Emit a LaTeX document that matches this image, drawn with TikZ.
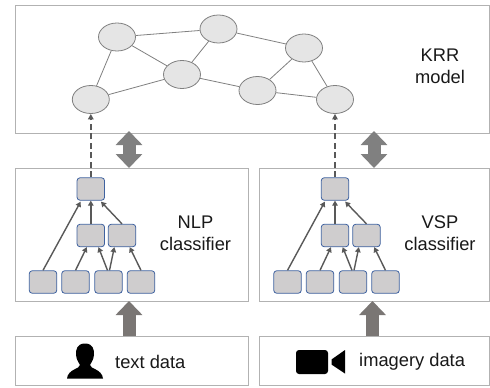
\documentclass[tikz,border=0pt]{standalone}
\usepackage{fontspec}
\setmainfont{Liberation Sans}
\usetikzlibrary{arrows.meta, shapes.geometric}
\definecolor{cellblue}{HTML}{3F62A0}
\definecolor{cellgray}{HTML}{CFCDCE}
\definecolor{flowgray}{HTML}{7A7674}

\begin{document}
\begin{tikzpicture}[
    x=1pt,y=-1pt,
    panel/.style={draw=black!30, line width=1pt, fill=white, inner sep=0pt, anchor=north west},
    concept/.style={ellipse, draw=black!50, line width=0.8pt, fill=black!10, minimum width=37pt, minimum height=28pt, inner sep=0pt},
    cell/.style={draw=cellblue, line width=0.8pt, fill=cellgray, rounded corners=3pt, minimum width=27.5pt, minimum height=22.5pt, inner sep=0pt},
    link/.style={draw=black!50, line width=0.8pt},
    feed/.style={draw=black!65, line width=1.4pt, -{Triangle[width=5.5pt,length=5pt]}},
    lift/.style={draw=black!65, line width=1.5pt, dash pattern=on 6pt off 3.5pt, -{Triangle[width=5.5pt,length=5.5pt]}},
    flow/.style={draw=flowgray, line width=13pt, -{Triangle[width=26pt,length=14pt]}},
    swap/.style={draw=black!50, line width=13pt, {Triangle[width=26pt,length=14pt]}-{Triangle[width=26pt,length=14pt]}},
    caption/.style={align=center, font=\fontsize{18.3}{22}\selectfont, text=black!90, inner sep=0pt}
    ]
    \useasboundingbox (0, 0) rectangle (490, 388);
    % panels
    \node[panel, minimum width=474.5pt, minimum height=128pt] (krr) at (14.5, 4.5) {};
    \node[panel, minimum width=233pt, minimum height=133.5pt] (nlp) at (14.5, 167.5) {};
    \node[panel, minimum width=230.5pt, minimum height=133.5pt] (vsp) at (258.5, 167.5) {};
    \node[panel, minimum width=233pt, minimum height=49.5pt] (text) at (14.5, 335.5) {};
    \node[panel, minimum width=230.5pt, minimum height=49.5pt] (imagery) at (258.5, 335.5) {};
    % graph
    \node[concept] (c1) at (117, 37) {};
    \node[concept] (c2) at (218.5, 29) {};
    \node[concept] (c3) at (90.8, 99.5) {};
    \node[concept] (c4) at (182, 74.5) {};
    \node[concept] (c5) at (304, 48) {};
    \node[concept] (c6) at (257.5, 90.5) {};
    \node[concept] (c7) at (335, 99.5) {};
    \draw[link] (c1) -- (c2);
    \draw[link] (c1) -- (c3);
    \draw[link] (c1) -- (c4);
    \draw[link] (c3) -- (c4);
    \draw[link] (c2) -- (c4);
    \draw[link] (c2) -- (c5);
    \draw[link] (c4) -- (c6);
    \draw[link] (c5) -- (c6);
    \draw[link] (c5) -- (c7);
    \draw[link] (c6) -- (c7);
    % left classifier
    \node[cell] (n1) at (90.8, 189) {};
    \node[cell] (n2) at (90.8, 235.5) {};
    \node[cell] (n3) at (122, 235.5) {};
    \node[cell] (n4) at (43, 282) {};
    \node[cell] (n5) at (75.5, 282) {};
    \node[cell] (n6) at (108.5, 282) {};
    \node[cell] (n7) at (141, 282) {};
    \draw[feed] (n4.north) -- ([xshift=4pt,yshift=-1pt]n1.south west);
    \draw[feed] (n2.north) -- (n1.south);
    \draw[feed] (n3.north) -- ([xshift=-4pt,yshift=-1pt]n1.south east);
    \draw[feed] (n5.north) -- ([xshift=-4pt]n2.south);
    \draw[feed] ([xshift=-1pt]n6.north) -- ([xshift=-6.5pt]n2.south east);
    \draw[feed] ([xshift=1pt]n6.north) -- ([xshift=6.5pt]n3.south west);
    \draw[feed] (n7.north) -- ([xshift=-6.5pt]n3.south east);
    \draw[lift] (n1.north) -- (c3.south);
    % right classifier
    \node[cell] (v1) at (335, 189) {};
    \node[cell] (v2) at (335, 235.5) {};
    \node[cell] (v3) at (366.5, 235.5) {};
    \node[cell] (v4) at (287.5, 282) {};
    \node[cell] (v5) at (320, 282) {};
    \node[cell] (v6) at (353, 282) {};
    \node[cell] (v7) at (385.5, 282) {};
    \draw[feed] (v4.north) -- ([xshift=4pt,yshift=-1pt]v1.south west);
    \draw[feed] (v2.north) -- (v1.south);
    \draw[feed] (v3.north) -- ([xshift=-4pt,yshift=-1pt]v1.south east);
    \draw[feed] (v5.north) -- ([xshift=-4pt]v2.south);
    \draw[feed] ([xshift=-1pt]v6.north) -- ([xshift=-6.5pt]v2.south east);
    \draw[feed] ([xshift=1pt]v6.north) -- ([xshift=6.5pt]v3.south west);
    \draw[feed] (v7.north) -- ([xshift=-6.5pt]v3.south east);
    \draw[lift] (v1.north) -- (c7.south);
    % thick arrows
    \coordinate (s1) at (129, 131);
    \coordinate (s2) at (129, 168);
    \coordinate (s3) at (374, 131);
    \coordinate (s4) at (374, 168);
    \coordinate (f1) at (129, 336);
    \coordinate (f2) at (129, 301);
    \coordinate (f3) at (372.5, 336);
    \coordinate (f4) at (372.5, 301);
    \draw[swap] (s1) -- (s2);
    \draw[swap] (s3) -- (s4);
    \draw[flow] (f1) -- (f2);
    \draw[flow] (f3) -- (f4);
    % icons
    \fill[black] (85, 343.5) .. controls (77, 343.5) and (75.5, 350) .. (76, 355)
      .. controls (76.5, 360) and (79, 363) .. (80, 365)
      .. controls (80, 369) and (68, 369) .. (67, 378.5) -- (103, 378.5)
      .. controls (102, 369) and (90, 369) .. (90, 365)
      .. controls (91, 363) and (93.5, 360) .. (94, 355)
      .. controls (94.5, 350) and (93, 343.5) .. (85, 343.5) -- cycle;
    \fill[black, rounded corners=3pt] (296, 350) rectangle (328, 374);
    \fill[black] (345, 350) -- (345, 373.5) -- (331.5, 364.5) -- (331.5, 359.5) -- cycle;
    % labels
    \node[caption] (krrlabel) at (440, 66) {KRR\\model};
    \node[caption] (nlplabel) at (195.5, 233) {NLP\\classifier};
    \node[caption] (vsplabel) at (440, 233) {VSP\\classifier};
    \node[caption, anchor=west] (textlabel) at (115, 362) {text data};
    \node[caption, anchor=west] (imagerylabel) at (359, 362) {imagery data};
  \end{tikzpicture}
\end{document}
